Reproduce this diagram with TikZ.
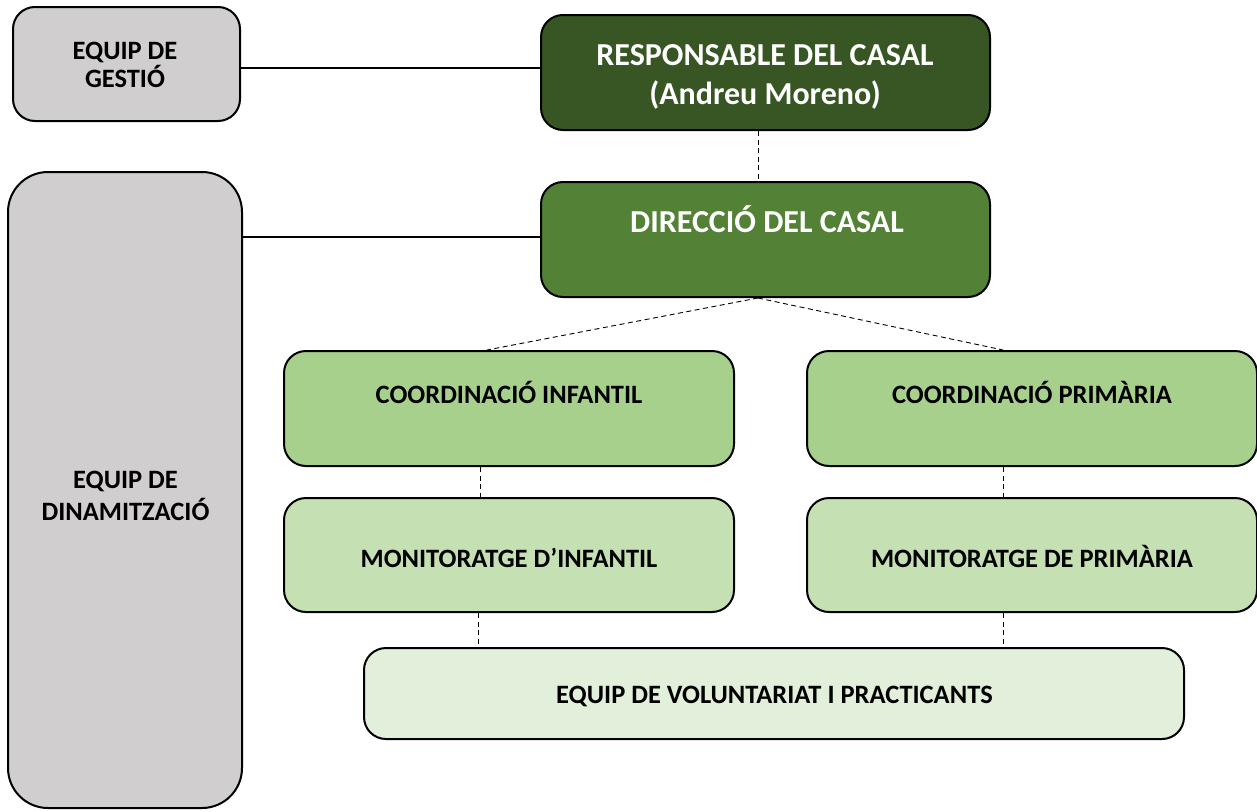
\documentclass[tikz,border=0pt]{standalone}
\usepackage{fontspec}
\setmainfont{Carlito}
\begin{document}
\begin{tikzpicture}[x=1pt,y=-1pt,
  box/.style={draw=black, line width=2pt, rounded corners=22pt, inner sep=0pt},
  lbl/.style={anchor=base, inner sep=0pt, font=\fontsize{26.5}{32}\bfseries\selectfont},
  biglbl/.style={anchor=base, inner sep=0pt, text=white, font=\fontsize{32}{39}\bfseries\selectfont},
  solidcon/.style={line width=1.6pt},
  dashcon/.style={line width=0.9pt, dash pattern=on 5pt off 3.5pt}]
\definecolor{gr}{HTML}{D0CECE}
\definecolor{dkg}{HTML}{375623}
\definecolor{mdg}{HTML}{538135}
\definecolor{lg1}{HTML}{A8D08D}
\definecolor{lg2}{HTML}{C5E0B3}
\definecolor{lg3}{HTML}{E2EFDA}
\useasboundingbox (0,0) rectangle (1257,811);
% boxes
\node[box, fill=gr, minimum width=227pt, minimum height=114pt] (gestio) at (126.5,64) {};
\node[box, fill=gr, rounded corners=40pt, minimum width=234pt, minimum height=636pt] (dinam) at (125,490) {};
\node[box, fill=dkg, minimum width=449pt, minimum height=115pt] (resp) at (765.5,72.5) {};
\node[box, fill=mdg, minimum width=449pt, minimum height=115pt] (dir) at (765.5,239.5) {};
\node[box, fill=lg1, minimum width=450pt, minimum height=115pt] (coi) at (509,408.5) {};
\node[box, fill=lg1, minimum width=450pt, minimum height=115pt] (cop) at (1032,408.5) {};
\node[box, fill=lg2, minimum width=450pt, minimum height=114pt] (moi) at (509,555) {};
\node[box, fill=lg2, minimum width=450pt, minimum height=114pt] (mop) at (1032,555) {};
\node[box, fill=lg3, minimum width=820pt, minimum height=91pt] (vol) at (774,693.5) {};
% texts
\node[lbl] (tgestioa) at (125,59) {EQUIP DE};
\node[lbl] (tgestiob) at (125,87) {GESTIÓ};
\node[lbl] (tdinama) at (125.5,488) {EQUIP DE};
\node[lbl] (tdinamb) at (125.5,520) {DINAMITZACIÓ};
\node[biglbl] (tresp) at (765,65) {RESPONSABLE DEL CASAL};
\node[biglbl] (tandreu) at (765,104) {(Andreu Moreno)};
\node[biglbl] (tdir) at (767,232) {DIRECCIÓ DEL CASAL};
\node[lbl] (tcoi) at (509,403) {COORDINACIÓ INFANTIL};
\node[lbl] (tcop) at (1032,403) {COORDINACIÓ PRIMÀRIA};
\node[lbl] (tmoi) at (509,567) {MONITORATGE D’INFANTIL};
\node[lbl] (tmop) at (1032,567) {MONITORATGE DE PRIMÀRIA};
\node[lbl] (tvol) at (774.5,703) {EQUIP DE VOLUNTARIAT I PRACTICANTS};
% connectors
\draw[solidcon] (gestio.east |- 0,68) -- (resp.west |- 0,68);
\draw[solidcon] (dinam.east |- 0,237) -- (dir.west |- 0,237);
\draw[dashcon] (resp.south -| 758,0) -- (dir.north -| 758,0);
\draw[dashcon] (dir.south -| 758,0) -- (coi.north -| 487,0);
\draw[dashcon] (dir.south -| 758,0) -- (cop.north -| 1003,0);
\draw[dashcon] (coi.south -| 480,0) -- (moi.north -| 480,0);
\draw[dashcon] (cop.south -| 1003,0) -- (mop.north -| 1003,0);
\draw[dashcon] (moi.south -| 478,0) -- (vol.north -| 478,0);
\draw[dashcon] (mop.south -| 1003,0) -- (vol.north -| 1003,0);
\end{tikzpicture}
\end{document}
